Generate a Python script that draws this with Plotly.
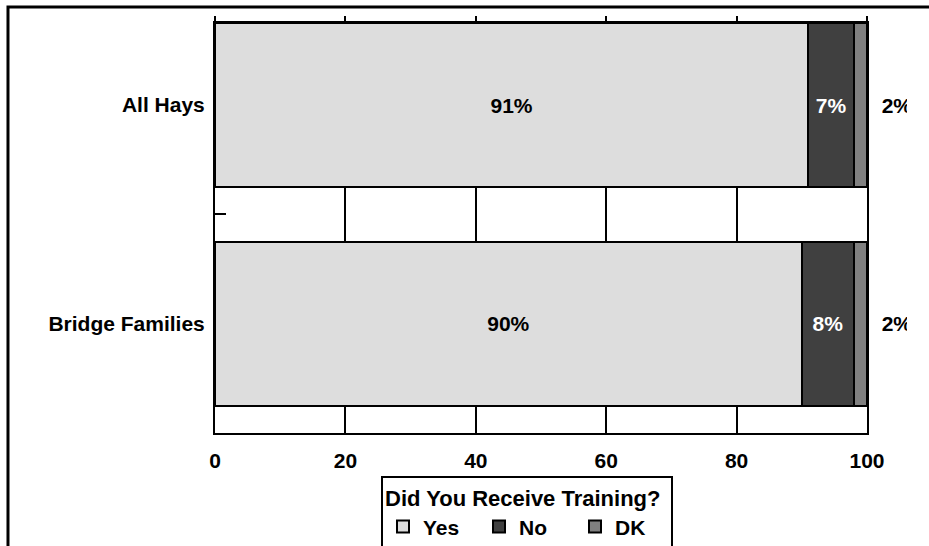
import plotly.graph_objects as go

# Survey answers per group (percent of respondents)
categories = ["Bridge Families", "All Hays"]
yes_pct = [90, 91]
no_pct = [8, 7]
dk_pct = [2, 2]
x_ticks = [0, 20, 40, 60, 80, 100]
legend_title = "Did You Receive Training?"

FONT = dict(family="Arial, 'Liberation Sans', sans-serif", size=21,
            color="black", weight="bold")

series = [
    ("Yes", yes_pct, "#DDDDDD", "black", "inside", "%{x}%"),
    ("No", no_pct, "#404040", "white", "inside", "%{x}%"),
    ("DK", dk_pct, "#808080", "black", "outside", "\u00a0\u00a0%{x}%"),
]

fig = go.Figure()
for name, vals, color, txt_color, pos, tmpl in series:
    fig.add_trace(go.Bar(
        y=categories, x=vals, name=name, orientation="h", width=0.75,
        marker=dict(color=color, line=dict(color="black", width=2)),
        texttemplate=tmpl, textposition=pos, insidetextanchor="middle",
        textfont=dict(FONT, color=txt_color), constraintext="none",
        cliponaxis=False, hoverinfo="skip",
    ))

# empty trace so the top tick axis gets drawn
fig.add_trace(go.Scatter(x=[None], y=[None], xaxis="x2", mode="markers",
                         showlegend=False, hoverinfo="skip"))

fig.update_layout(
    width=929, height=546,
    margin=dict(l=215, r=62, t=23, b=113, autoexpand=False),
    paper_bgcolor="white", plot_bgcolor="white",
    barmode="stack", showlegend=True,
    font=FONT,
    xaxis=dict(
        range=[0, 100], tickvals=x_ticks, ticks="", showgrid=True,
        gridcolor="black", gridwidth=2, zeroline=False, showline=True,
        linecolor="black", linewidth=2, mirror=True, tickfont=FONT,
        ticklabelstandoff=8,
    ),
    xaxis2=dict(
        overlaying="x", side="top", range=[0, 100], tickvals=x_ticks,
        ticks="outside", ticklen=6, tickwidth=2, tickcolor="black",
        showticklabels=False, showgrid=False, zeroline=False, showline=False,
    ),
    yaxis=dict(
        type="category", categoryorder="array", categoryarray=categories,
        range=[-0.5, 1.375], showgrid=False, zeroline=False, showline=True,
        linecolor="black", linewidth=2, mirror=True, ticks="inside",
        tickson="boundaries", ticklen=11, tickwidth=2, tickcolor="black",
        tickfont=FONT, ticklabelstandoff=4,
    ),
    legend=dict(
        orientation="h", x=0.2546, xanchor="left", y=-0.104, yanchor="top",
        bgcolor="white", bordercolor="black", borderwidth=2, font=FONT,
        title=dict(text=legend_title, font=dict(FONT, size=22), side="top"),
        entrywidth=51, traceorder="normal", itemclick=False,
        itemdoubleclick=False,
    ),
    shapes=[
        # outer chart frame
        dict(type="rect", xref="paper", yref="paper", x0=-0.3175, x1=1.3,
             y0=-0.4, y1=1.039, line=dict(color="black", width=3),
             layer="below"),
        # right-hand edge of the chart area trims the outside labels
        dict(type="rect", xref="paper", yref="paper", x0=1.0613, x1=1.3,
             y0=0.03, y1=0.96, fillcolor="white", line=dict(width=0),
             layer="above"),
    ],
)

fig.write_html("out.html")
